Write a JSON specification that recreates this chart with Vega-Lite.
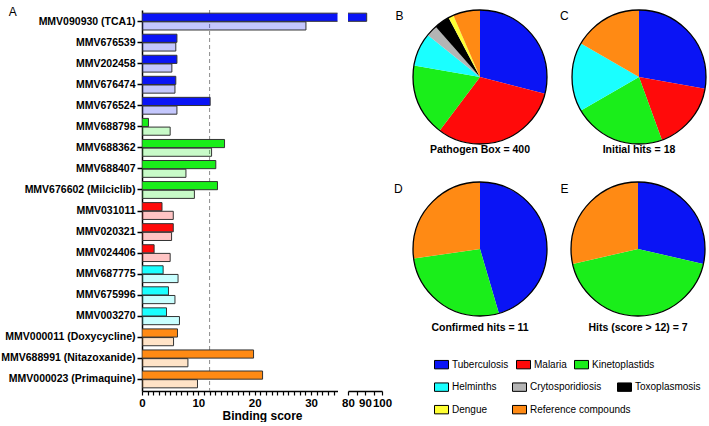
{
  "$schema": "https://vega.github.io/schema/vega-lite/v6.json",
  "padding": {"left": 0, "top": 5, "right": 0, "bottom": 0},
  "datasets": {
    "bars": [
      {"compound": "MMV090930 (TCA1)", "category": "Tuberculosis", "type": "dark", "score": 91},
      {"compound": "MMV090930 (TCA1)", "category": "Tuberculosis", "type": "light", "score": 29.1},
      {"compound": "MMV676539", "category": "Tuberculosis", "type": "dark", "score": 6.2},
      {"compound": "MMV676539", "category": "Tuberculosis", "type": "light", "score": 6.0},
      {"compound": "MMV202458", "category": "Tuberculosis", "type": "dark", "score": 6.2},
      {"compound": "MMV202458", "category": "Tuberculosis", "type": "light", "score": 5.3},
      {"compound": "MMV676474", "category": "Tuberculosis", "type": "dark", "score": 6.0},
      {"compound": "MMV676474", "category": "Tuberculosis", "type": "light", "score": 5.85},
      {"compound": "MMV676524", "category": "Tuberculosis", "type": "dark", "score": 12.1},
      {"compound": "MMV676524", "category": "Tuberculosis", "type": "light", "score": 6.2},
      {"compound": "MMV688798", "category": "Kinetoplastids", "type": "dark", "score": 1.15},
      {"compound": "MMV688798", "category": "Kinetoplastids", "type": "light", "score": 5.0},
      {"compound": "MMV688362", "category": "Kinetoplastids", "type": "dark", "score": 14.65},
      {"compound": "MMV688362", "category": "Kinetoplastids", "type": "light", "score": 12.35},
      {"compound": "MMV688407", "category": "Kinetoplastids", "type": "dark", "score": 13.1},
      {"compound": "MMV688407", "category": "Kinetoplastids", "type": "light", "score": 7.8},
      {"compound": "MMV676602 (Milciclib)", "category": "Kinetoplastids", "type": "dark", "score": 13.4},
      {"compound": "MMV676602 (Milciclib)", "category": "Kinetoplastids", "type": "light", "score": 9.3},
      {"compound": "MMV031011", "category": "Malaria", "type": "dark", "score": 3.55},
      {"compound": "MMV031011", "category": "Malaria", "type": "light", "score": 5.55},
      {"compound": "MMV020321", "category": "Malaria", "type": "dark", "score": 5.55},
      {"compound": "MMV020321", "category": "Malaria", "type": "light", "score": 5.25},
      {"compound": "MMV024406", "category": "Malaria", "type": "dark", "score": 2.15},
      {"compound": "MMV024406", "category": "Malaria", "type": "light", "score": 5.0},
      {"compound": "MMV687775", "category": "Helminths", "type": "dark", "score": 3.75},
      {"compound": "MMV687775", "category": "Helminths", "type": "light", "score": 6.4},
      {"compound": "MMV675996", "category": "Helminths", "type": "dark", "score": 4.7},
      {"compound": "MMV675996", "category": "Helminths", "type": "light", "score": 5.85},
      {"compound": "MMV003270", "category": "Helminths", "type": "dark", "score": 4.35},
      {"compound": "MMV003270", "category": "Helminths", "type": "light", "score": 6.65},
      {"compound": "MMV000011 (Doxycycline)", "category": "Reference compounds", "type": "dark", "score": 6.3},
      {"compound": "MMV000011 (Doxycycline)", "category": "Reference compounds", "type": "light", "score": 5.6},
      {"compound": "MMV688991 (Nitazoxanide)", "category": "Reference compounds", "type": "dark", "score": 19.8},
      {"compound": "MMV688991 (Nitazoxanide)", "category": "Reference compounds", "type": "light", "score": 8.15},
      {"compound": "MMV000023 (Primaquine)", "category": "Reference compounds", "type": "dark", "score": 21.4},
      {"compound": "MMV000023 (Primaquine)", "category": "Reference compounds", "type": "light", "score": 9.85}
    ],
    "pies": [
      {"pie": "B", "category": "Tuberculosis", "n": 116},
      {"pie": "B", "category": "Malaria", "n": 125},
      {"pie": "B", "category": "Kinetoplastids", "n": 70},
      {"pie": "B", "category": "Helminths", "n": 32},
      {"pie": "B", "category": "Crytosporidiosis", "n": 11},
      {"pie": "B", "category": "Toxoplasmosis", "n": 15},
      {"pie": "B", "category": "Dengue", "n": 5},
      {"pie": "B", "category": "Reference compounds", "n": 26},
      {"pie": "C", "category": "Tuberculosis", "n": 5},
      {"pie": "C", "category": "Malaria", "n": 3},
      {"pie": "C", "category": "Kinetoplastids", "n": 4},
      {"pie": "C", "category": "Helminths", "n": 3},
      {"pie": "C", "category": "Reference compounds", "n": 3},
      {"pie": "D", "category": "Tuberculosis", "n": 5},
      {"pie": "D", "category": "Kinetoplastids", "n": 3},
      {"pie": "D", "category": "Reference compounds", "n": 3},
      {"pie": "E", "category": "Tuberculosis", "n": 2},
      {"pie": "E", "category": "Kinetoplastids", "n": 3},
      {"pie": "E", "category": "Reference compounds", "n": 2}
    ]
  },
  "config": {
    "font": "Liberation Sans",
    "view": {"stroke": null},
    "title": {"font": "Liberation Sans", "color": "black"},
    "axis": {"labelFont": "Liberation Sans", "titleFont": "Liberation Sans", "labelColor": "black", "titleColor": "black", "domainColor": "black", "tickColor": "black", "grid": false},
    "legend": {"labelFont": "Liberation Sans", "title": null, "orient": "none", "direction": "horizontal", "symbolType": "M-1,-0.6H1V0.6H-1Z", "symbolSize": 196, "symbolStrokeColor": "black", "symbolStrokeWidth": 1, "symbolOpacity": 1, "labelFontSize": 10, "labelOffset": 3, "labelColor": "black"}
  },
  "spacing": 2,
  "hconcat": [
    {
      "spacing": 3,
      "resolve": {"scale": {"y": "shared"}},
      "hconcat": [
        {
          "width": 195.5,
          "height": 381,
          "title": {"text": "A", "orient": "top", "anchor": "start", "frame": "bounds", "offset": -9, "dx": 8, "fontSize": 12, "fontWeight": "normal"},
          "data": {"name": "bars"},
          "layer": [
            {
              "data": {"values": [{"threshold": 12}]},
              "mark": {"type": "rule", "strokeDash": [4, 3], "color": "#8c8c8c", "strokeWidth": 1},
              "encoding": {"x": {"field": "threshold", "type": "quantitative"}}
            },
            {
              "mark": {"type": "bar", "clip": true, "stroke": "#333333", "strokeWidth": 1},
              "encoding": {
                "y": {
                  "field": "compound", "type": "nominal", "sort": null,
                  "scale": {"paddingInner": 0.2, "paddingOuter": 0.15},
                  "axis": {"title": null, "labelFontSize": 10.5, "labelFontWeight": "bold", "labelPadding": 2, "tickSize": 5, "tickWidth": 1.5, "domainWidth": 1.5, "labelLimit": 250}
                },
                "yOffset": {"field": "type", "type": "nominal", "scale": {"domain": ["dark", "light"], "paddingInner": 0.06}},
                "x": {
                  "field": "score", "type": "quantitative",
                  "scale": {"domain": [0, 34.7], "nice": false},
                  "axis": {"title": "Binding score", "titleX": 120, "titleFontSize": 12, "titleFontWeight": "bold", "titlePadding": 2, "tickCount": 35, "labelExpr": "datum.value % 10 === 0 ? datum.label : ''", "labelFontSize": 11.5, "labelFontWeight": "bold", "labelFlush": false, "labelOverlap": false, "labelPadding": 2, "tickSize": 4, "tickWidth": 1.2, "domainWidth": 1.5}
                },
                "fill": {
                  "field": "category", "type": "nominal", "legend": null,
                  "scale": {"domain": ["Tuberculosis", "Malaria", "Kinetoplastids", "Helminths", "Crytosporidiosis", "Toxoplasmosis", "Dengue", "Reference compounds"],
                            "range": ["#0a14f5", "#ff0a0a", "#1aee1a", "#1affff", "#b4b4b4", "#000000", "#ffff33", "#ff8a14"]}
                },
                "fillOpacity": {"field": "type", "type": "nominal", "legend": null, "scale": {"domain": ["dark", "light"], "range": [1, 0.24]}}
              }
            }
          ]
        },
        {
          "width": 34,
          "height": 381,
          "data": {"name": "bars"},
          "mark": {"type": "bar", "clip": true, "stroke": "#333333", "strokeWidth": 1},
          "encoding": {
            "y": {"field": "compound", "type": "nominal", "sort": null, "scale": {"paddingInner": 0.2, "paddingOuter": 0.15}, "axis": null},
            "yOffset": {"field": "type", "type": "nominal", "scale": {"domain": ["dark", "light"], "paddingInner": 0.06}},
            "x": {
              "field": "score", "type": "quantitative",
              "scale": {"domain": [80, 100], "nice": false},
              "axis": {"title": null, "tickCount": 5, "labelExpr": "datum.value % 10 === 0 ? datum.label : ''", "labelFontSize": 11.5, "labelFontWeight": "bold", "labelFlush": false, "labelOverlap": false, "labelPadding": 2, "tickSize": 4, "tickWidth": 1.2, "domainWidth": 1.5}
            },
            "fill": {
              "field": "category", "type": "nominal", "legend": null,
              "scale": {"domain": ["Tuberculosis", "Malaria", "Kinetoplastids", "Helminths", "Crytosporidiosis", "Toxoplasmosis", "Dengue", "Reference compounds"],
                        "range": ["#0a14f5", "#ff0a0a", "#1aee1a", "#1affff", "#b4b4b4", "#000000", "#ffff33", "#ff8a14"]}
            },
            "fillOpacity": {"field": "type", "type": "nominal", "legend": null, "scale": {"domain": ["dark", "light"], "range": [1, 0.24]}}
          }
        }
      ]
    },
    {
      "spacing": 23,
      "resolve": {"legend": {"color": "independent"}},
      "vconcat": [
        {
          "spacing": 10,
          "hconcat": [
            {
              "title": {"text": "B", "orient": "left", "anchor": "end", "frame": "group", "angle": 0, "align": "right", "baseline": "top", "offset": -1, "dy": 1, "fontSize": 12, "fontWeight": "normal"},
              "vconcat": [
                {
                  "width": 134, "height": 134,
                  "title": {"text": "Pathogen Box = 400", "orient": "bottom", "offset": -2, "fontSize": 10.5, "fontWeight": "bold"},
                  "layer": [
                    {
                      "data": {"name": "pies"},
                      "transform": [{"filter": "datum.pie === 'B'"}, {"window": [{"op": "row_number", "as": "idx"}]}],
                      "mark": {"type": "arc"},
                      "encoding": {
                        "theta": {"field": "n", "type": "quantitative", "stack": true},
                        "order": {"field": "idx", "type": "quantitative"},
                        "color": {
                          "field": "category", "type": "nominal", "legend": null,
                          "scale": {"domain": ["Tuberculosis", "Malaria", "Kinetoplastids", "Helminths", "Crytosporidiosis", "Toxoplasmosis", "Dengue", "Reference compounds"],
                                    "range": ["#0a14f5", "#ff0a0a", "#1aee1a", "#1affff", "#b4b4b4", "#000000", "#ffff33", "#ff8a14"]}
                        }
                      }
                    },
                    {
                      "data": {"values": [{}]},
                      "mark": {"type": "arc", "theta": 0, "theta2": 6.2832, "filled": false, "stroke": "black", "strokeWidth": 1.3},
                      "encoding": {}
                    }
                  ]
                }
              ]
            },
            {
              "title": {"text": "C", "orient": "left", "anchor": "end", "frame": "group", "angle": 0, "align": "right", "baseline": "top", "offset": -8, "dy": 1, "fontSize": 12, "fontWeight": "normal"},
              "vconcat": [
                {
                  "width": 134, "height": 134,
                  "title": {"text": "Initial hits = 18", "orient": "bottom", "offset": -2, "fontSize": 10.5, "fontWeight": "bold"},
                  "layer": [
                    {
                      "data": {"name": "pies"},
                      "transform": [{"filter": "datum.pie === 'C'"}, {"window": [{"op": "row_number", "as": "idx"}]}],
                      "mark": {"type": "arc"},
                      "encoding": {
                        "theta": {"field": "n", "type": "quantitative", "stack": true},
                        "order": {"field": "idx", "type": "quantitative"},
                        "color": {
                          "field": "category", "type": "nominal", "legend": null,
                          "scale": {"domain": ["Tuberculosis", "Malaria", "Kinetoplastids", "Helminths", "Crytosporidiosis", "Toxoplasmosis", "Dengue", "Reference compounds"],
                                    "range": ["#0a14f5", "#ff0a0a", "#1aee1a", "#1affff", "#b4b4b4", "#000000", "#ffff33", "#ff8a14"]}
                        }
                      }
                    },
                    {
                      "data": {"values": [{}]},
                      "mark": {"type": "arc", "theta": 0, "theta2": 6.2832, "filled": false, "stroke": "black", "strokeWidth": 1.3},
                      "encoding": {}
                    }
                  ]
                }
              ]
            }
          ]
        },
        {
          "spacing": 10,
          "hconcat": [
            {
              "title": {"text": "D", "orient": "left", "anchor": "end", "frame": "group", "angle": 0, "align": "right", "baseline": "top", "offset": -1, "dy": 2, "fontSize": 12, "fontWeight": "normal"},
              "vconcat": [
                {
                  "width": 134, "height": 134,
                  "title": {"text": "Confirmed hits = 11", "orient": "bottom", "offset": 4, "fontSize": 10.5, "fontWeight": "bold"},
                  "layer": [
                    {
                      "data": {"name": "pies"},
                      "transform": [{"filter": "datum.pie === 'D'"}, {"window": [{"op": "row_number", "as": "idx"}]}],
                      "mark": {"type": "arc"},
                      "encoding": {
                        "theta": {"field": "n", "type": "quantitative", "stack": true},
                        "order": {"field": "idx", "type": "quantitative"},
                        "color": {
                          "field": "category", "type": "nominal", "legend": null,
                          "scale": {"domain": ["Tuberculosis", "Malaria", "Kinetoplastids", "Helminths", "Crytosporidiosis", "Toxoplasmosis", "Dengue", "Reference compounds"],
                                    "range": ["#0a14f5", "#ff0a0a", "#1aee1a", "#1affff", "#b4b4b4", "#000000", "#ffff33", "#ff8a14"]}
                        }
                      }
                    },
                    {
                      "data": {"values": [{}]},
                      "mark": {"type": "arc", "theta": 0, "theta2": 6.2832, "filled": false, "stroke": "black", "strokeWidth": 1.3},
                      "encoding": {}
                    }
                  ]
                }
              ]
            },
            {
              "title": {"text": "E", "orient": "left", "anchor": "end", "frame": "group", "angle": 0, "align": "right", "baseline": "top", "offset": -8, "dy": 2, "fontSize": 12, "fontWeight": "normal"},
              "vconcat": [
                {
                  "width": 134, "height": 134,
                  "title": {"text": "Hits (score > 12) = 7", "orient": "bottom", "offset": 4, "fontSize": 10.5, "fontWeight": "bold"},
                  "layer": [
                    {
                      "data": {"name": "pies"},
                      "transform": [{"filter": "datum.pie === 'E'"}, {"window": [{"op": "row_number", "as": "idx"}]}],
                      "mark": {"type": "arc"},
                      "encoding": {
                        "theta": {"field": "n", "type": "quantitative", "stack": true},
                        "order": {"field": "idx", "type": "quantitative"},
                        "color": {
                          "field": "category", "type": "nominal", "legend": null,
                          "scale": {"domain": ["Tuberculosis", "Malaria", "Kinetoplastids", "Helminths", "Crytosporidiosis", "Toxoplasmosis", "Dengue", "Reference compounds"],
                                    "range": ["#0a14f5", "#ff0a0a", "#1aee1a", "#1affff", "#b4b4b4", "#000000", "#ffff33", "#ff8a14"]}
                        }
                      }
                    },
                    {
                      "data": {"values": [{}]},
                      "mark": {"type": "arc", "theta": 0, "theta2": 6.2832, "filled": false, "stroke": "black", "strokeWidth": 1.3},
                      "encoding": {}
                    }
                  ]
                }
              ]
            }
          ]
        },
        {
          "width": 300,
          "height": 40,
          "data": {"name": "pies"},
          "transform": [{"filter": "datum.pie === 'B'"}],
          "resolve": {"legend": {"color": "independent"}},
          "layer": [
            {
              "mark": {"type": "arc", "radius": 0},
              "encoding": {
                "theta": {"field": "n", "type": "quantitative"},
                "color": {
                  "field": "category", "type": "nominal",
                  "scale": {"domain": ["Tuberculosis", "Malaria", "Kinetoplastids", "Helminths", "Crytosporidiosis", "Toxoplasmosis", "Dengue", "Reference compounds"],
                            "range": ["#0a14f5", "#ff0a0a", "#1aee1a", "#1affff", "#b4b4b4", "#000000", "#ffff33", "#ff8a14"]},
                  "legend": {"values": ["Tuberculosis", "Malaria", "Kinetoplastids"], "legendX": 21, "legendY": -7, "columnPadding": 5}
                }
              }
            },
            {
              "mark": {"type": "arc", "radius": 0},
              "encoding": {
                "theta": {"field": "n", "type": "quantitative"},
                "color": {
                  "field": "category", "type": "nominal",
                  "scale": {"domain": ["Tuberculosis", "Malaria", "Kinetoplastids", "Helminths", "Crytosporidiosis", "Toxoplasmosis", "Dengue", "Reference compounds"],
                            "range": ["#0a14f5", "#ff0a0a", "#1aee1a", "#1affff", "#b4b4b4", "#000000", "#ffff33", "#ff8a14"]},
                  "legend": {"values": ["Helminths", "Crytosporidiosis", "Toxoplasmosis"], "legendX": 21, "legendY": 15.5, "columnPadding": 13}
                }
              }
            },
            {
              "mark": {"type": "arc", "radius": 0},
              "encoding": {
                "theta": {"field": "n", "type": "quantitative"},
                "color": {
                  "field": "category", "type": "nominal",
                  "scale": {"domain": ["Tuberculosis", "Malaria", "Kinetoplastids", "Helminths", "Crytosporidiosis", "Toxoplasmosis", "Dengue", "Reference compounds"],
                            "range": ["#0a14f5", "#ff0a0a", "#1aee1a", "#1affff", "#b4b4b4", "#000000", "#ffff33", "#ff8a14"]},
                  "legend": {"values": ["Dengue", "Reference compounds"], "legendX": 21, "legendY": 38, "columnPadding": 22}
                }
              }
            }
          ]
        }
      ]
    }
  ]
}
